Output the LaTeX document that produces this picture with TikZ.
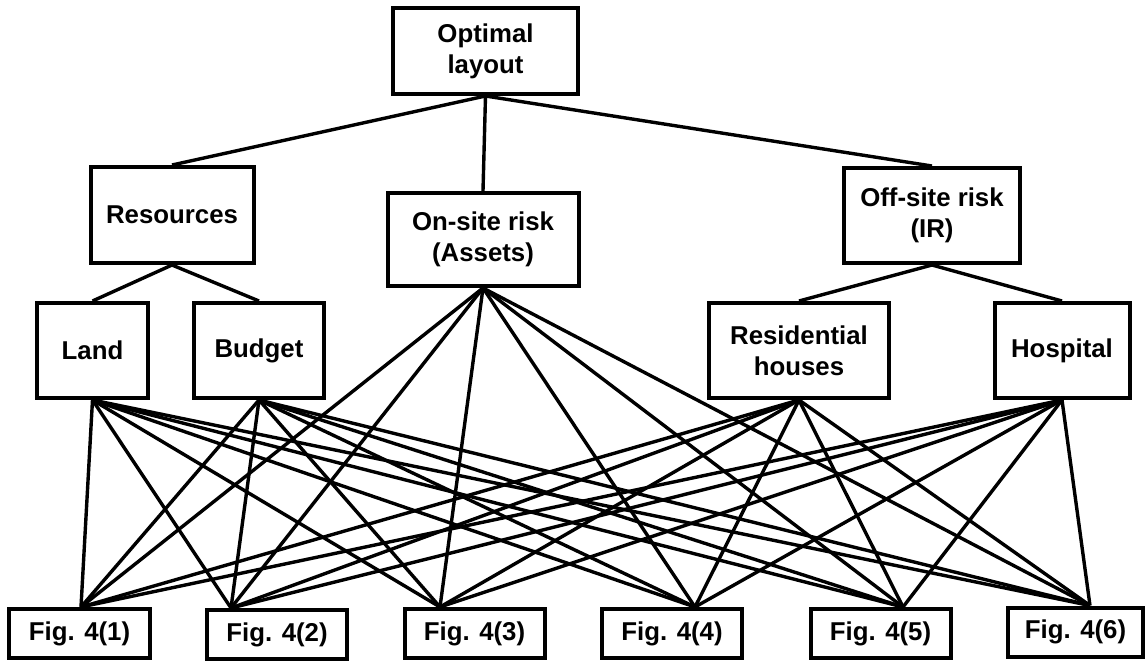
\documentclass[tikz,border=0pt]{standalone}
\usepackage{fontspec}
\setmainfont{Liberation Sans}
\begin{document}
\begin{tikzpicture}[x=0.5pt,y=-0.5pt,
  box/.style={draw=black,line width=2pt,rectangle,align=center,inner sep=0pt,
    font=\bfseries\fontsize{12.9}{15.5}\selectfont},
  link/.style={line width=1.7pt,black}]
\useasboundingbox (0,0) rectangle (1148,661);
% top levels
\node[box,minimum width=92.5pt,minimum height=43pt] (opt) at (485.5,51) {Optimal\\layout};
\node[box,minimum width=81.5pt,minimum height=48pt] (res) at (172,215) {Resources};
\node[box,minimum width=95.5pt,minimum height=46.5pt] (on) at (483,239.5) {On-site risk\\(Assets)};
\node[box,minimum width=88pt,minimum height=47.5pt] (off) at (932,215.5) {Off-site risk\\(IR)};
% criteria
\node[box,minimum width=55.5pt,minimum height=47.5pt] (land) at (92.5,350.5) {Land};
\node[box,minimum width=65pt,minimum height=47.5pt] (budget) at (259,350.5) {Budget};
\node[box,minimum width=90pt,minimum height=47.5pt] (resid) at (799,350.5) {Residential\\houses};
\node[box,minimum width=67.5pt,minimum height=47.5pt] (hosp) at (1062,350.5) {Hospital};
% alternatives
\node[box,minimum width=70.5pt,minimum height=24.5pt] (f1) at (79.5,633.5) {Fig. 4(1)};
\node[box,minimum width=70pt,minimum height=24.5pt] (f2) at (277,634.5) {Fig. 4(2)};
\node[box,minimum width=70pt,minimum height=24.5pt] (f3) at (474.5,633.5) {Fig. 4(3)};
\node[box,minimum width=70pt,minimum height=24.5pt] (f4) at (672,633.5) {Fig. 4(4)};
\node[box,minimum width=70pt,minimum height=24.5pt] (f5) at (880.5,633.5) {Fig. 4(5)};
\node[box,minimum width=67.5pt,minimum height=24.5pt] (f6) at (1075.5,632) {Fig. 4(6)};
% attachment points on the alternatives
\coordinate (p1) at ([xshift=0.75pt]f1.north);
\coordinate (p2) at ([xshift=-23pt]f2.north);
\coordinate (p3) at ([xshift=-17.25pt]f3.north);
\coordinate (p4) at ([xshift=11.5pt]f4.north);
\coordinate (p5) at ([xshift=11.25pt]f5.north);
\coordinate (p6) at ([xshift=7.25pt]f6.north);
% hierarchy links
\draw[link] (opt.south) -- (res.north);
\draw[link] (opt.south) -- (on.north);
\draw[link] (opt.south) -- (off.north);
\draw[link] (res.south) -- (land.north);
\draw[link] (res.south) -- (budget.north);
\draw[link] (off.south) -- (resid.north);
\draw[link] (off.south) -- (hosp.north);
% criteria to alternatives
\foreach \s in {land,budget,on,resid,hosp}{
  \foreach \p in {p1,p2,p3,p4,p5,p6}{
    \draw[link] (\s.south) -- (\p);
  }
}
\end{tikzpicture}
\end{document}
